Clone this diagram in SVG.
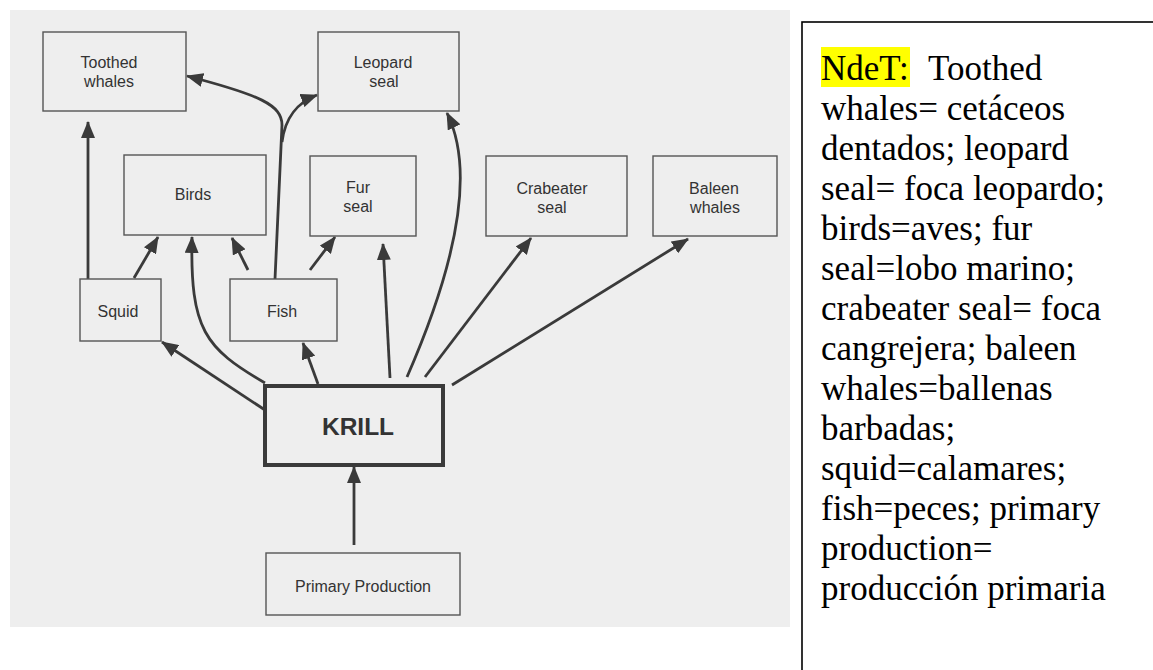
<svg xmlns="http://www.w3.org/2000/svg" width="1153" height="670" viewBox="0 0 1153 670">
<defs>
<style>
.box{fill:none;stroke:#555;stroke-width:1.4}
.krill{fill:none;stroke:#3a3a3a;stroke-width:4}
.lbl{font-family:"Liberation Sans",Arial,sans-serif;font-size:16px;fill:#333;text-anchor:middle}
.big{font-family:"Liberation Sans",Arial,sans-serif;font-size:24.5px;font-weight:bold;fill:#333;text-anchor:middle}
.c{fill:none;stroke:#3a3a3a;stroke-width:2.8;marker-end:url(#ah)}
.cn{fill:none;stroke:#3a3a3a;stroke-width:2.8}
.note{font-family:"Liberation Serif","Times New Roman",serif;font-size:35px;fill:#000}
</style>
<marker id="ah" markerUnits="userSpaceOnUse" markerWidth="17" markerHeight="14" refX="16" refY="7" orient="auto">
<path d="M0,0 L17,7 L0,14 z" fill="#3a3a3a"/>
</marker>
</defs>
<rect width="1153" height="670" fill="#fff"/>
<rect x="10" y="10" width="780" height="617" fill="#eeeeee"/>

<g id="connectors">
<path class="c" d="M88 279 L88 122"/>
<path class="c" d="M134 278 L158 237"/>
<path class="c" d="M265 383 C205 348 190 330 192 237"/>
<path class="c" d="M248 270 L232 238"/>
<path class="c" d="M275 279 L282 125 C282 105 260 95 187 76"/>
<path class="c" d="M282 142 C285 118 298 102 317 95"/>
<path class="c" d="M310 270 L335 237"/>
<path class="c" d="M318 384 L303 343"/>
<path class="c" d="M265 410 L162 342"/>
<path class="c" d="M390 378 L383 244"/>
<path class="c" d="M407 377 C445 290 480 180 447 113"/>
<path class="c" d="M425 377 L531 238"/>
<path class="c" d="M452 385 L688 239"/>
<path class="c" d="M354 545 L354 467"/>
</g>

<g id="toothed-whales">
<rect class="box" x="43" y="32" width="143" height="79"/>
<text class="lbl" x="109" y="68">Toothed</text>
<text class="lbl" x="109" y="87">whales</text>
</g>
<g id="leopard-seal">
<rect class="box" x="318" y="32" width="141" height="79"/>
<text class="lbl" x="383" y="68">Leopard</text>
<text class="lbl" x="384" y="87">seal</text>
</g>
<g id="birds">
<rect class="box" x="124" y="155" width="142" height="80"/>
<text class="lbl" x="193" y="200">Birds</text>
</g>
<g id="fur-seal">
<rect class="box" x="310" y="156" width="106" height="80"/>
<text class="lbl" x="358" y="193">Fur</text>
<text class="lbl" x="358" y="212">seal</text>
</g>
<g id="crabeater-seal">
<rect class="box" x="486" y="156" width="141" height="80"/>
<text class="lbl" x="552" y="194">Crabeater</text>
<text class="lbl" x="552" y="213">seal</text>
</g>
<g id="baleen-whales">
<rect class="box" x="653" y="156" width="124" height="80"/>
<text class="lbl" x="714" y="194">Baleen</text>
<text class="lbl" x="715" y="213">whales</text>
</g>
<g id="squid">
<rect class="box" x="80" y="279" width="81" height="62"/>
<text class="lbl" x="118" y="317">Squid</text>
</g>
<g id="fish">
<rect class="box" x="230" y="279" width="107" height="62"/>
<text class="lbl" x="282" y="317">Fish</text>
</g>
<g id="krill">
<rect class="krill" x="265" y="386" width="178" height="79"/>
<text class="big" x="358" y="435">KRILL</text>
</g>
<g id="primary-production">
<rect class="box" x="266" y="553" width="194" height="62"/>
<text class="lbl" x="363" y="592">Primary Production</text>
</g>

<g id="note">
<rect x="802" y="22" width="400" height="700" fill="#fff" stroke="#000" stroke-width="1.6"/>
<rect x="821" y="47" width="89" height="40" fill="#ffff00"/>
<text class="note" x="821" y="80">NdeT:</text>
<text class="note" x="928" y="80">Toothed</text>
<text class="note" x="821" y="120">whales= cetáceos</text>
<text class="note" x="821" y="160">dentados; leopard</text>
<text class="note" x="821" y="200">seal= foca leopardo;</text>
<text class="note" x="821" y="240">birds=aves; fur</text>
<text class="note" x="821" y="280">seal=lobo marino;</text>
<text class="note" x="821" y="320">crabeater seal= foca</text>
<text class="note" x="821" y="360">cangrejera; baleen</text>
<text class="note" x="821" y="400">whales=ballenas</text>
<text class="note" x="821" y="440">barbadas;</text>
<text class="note" x="821" y="480">squid=calamares;</text>
<text class="note" x="821" y="520">fish=peces; primary</text>
<text class="note" x="821" y="560">production=</text>
<text class="note" x="821" y="600">producción primaria</text>
</g>
</svg>
